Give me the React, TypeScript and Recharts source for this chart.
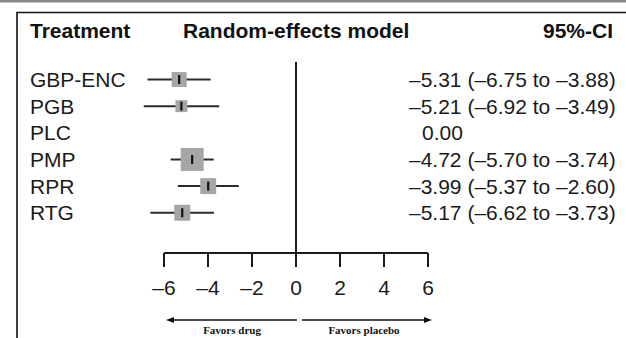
import { ScatterChart, Scatter, XAxis, YAxis, ZAxis, ErrorBar, ReferenceLine } from "recharts";

const treatments = ["GBP-ENC", "PGB", "PLC", "PMP", "RPR", "RTG"];
const estimates = [-5.31, -5.21, 0, -4.72, -3.99, -5.17];
const ciLow: (number | null)[] = [-6.75, -6.92, null, -5.7, -5.37, -6.62];
const ciHigh: (number | null)[] = [-3.88, -3.49, null, -3.74, -2.6, -3.73];
const weights = [22, 14, 0, 52, 25, 25];
const xTicks = [-6, -4, -2, 0, 2, 4, 6];

const dash = (v: number) => v.toFixed(2).replace("-", "\u2013");

const rows = treatments.map((name, i) => ({
  row: i,
  name,
  est: estimates[i],
  weight: weights[i],
  err: ciLow[i] == null ? null : [estimates[i] - (ciLow[i] as number), (ciHigh[i] as number) - estimates[i]],
  ci:
    ciLow[i] == null
      ? dash(estimates[i])
      : `${dash(estimates[i])} (${dash(ciLow[i] as number)} to ${dash(ciHigh[i] as number)})`,
}));
const plotted = rows.filter((r) => r.err != null);

// y-range of the row axis (reversed, so the bottom edge is the max)
const rowDomain: [number, number] = [-0.657, 6.51];

const font = '"Liberation Sans", Arial, sans-serif';

function RowTick({ y, payload }: { y?: number; payload?: { value: number } }) {
  const r = rows[payload?.value ?? 0];
  if (!r) return null;
  return (
    <g>
      <text x={30} y={y} dy="0.36em" fontSize={21} fill="#1a1a1a" fontFamily={font}>
        {r.name}
      </text>
      <text x={r.err ? 409 : 422} y={y} dy="0.36em" fontSize={21} fill="#1a1a1a" fontFamily={font}>
        {r.ci}
      </text>
    </g>
  );
}

function Square(p: any) {
  const s = p.width ?? 2 * Math.sqrt((p.size ?? 0) / Math.PI);
  return <rect x={p.cx - s / 2} y={p.cy - s / 2} width={s} height={s} fill="#a6a6a6" />;
}

function Mark(p: any) {
  return <rect x={p.cx - 1.1} y={p.cy - 4.5} width={2.2} height={9} fill="#111" />;
}

export default function App() {
  return (
    <div style={{ position: "absolute", left: 0, top: 0, width: 626, height: 338, background: "#fff", fontFamily: font }}>
      <ScatterChart width={626} height={338} margin={{ top: 62, right: 198, bottom: 25, left: 0 }}>
        <XAxis
          type="number"
          dataKey="est"
          domain={[-7, 6]}
          ticks={xTicks}
          interval={0}
          height={60}
          tickSize={14}
          tickMargin={13}
          axisLine={false}
          tickLine={{ stroke: "#1a1a1a", strokeWidth: 2 }}
          tick={{ fill: "#1a1a1a", fontSize: 21, fontFamily: font }}
          tickFormatter={(v: number) => String(v).replace("-", "\u2013")}
        />
        <YAxis
          yAxisId="left"
          type="number"
          dataKey="row"
          reversed
          domain={rowDomain}
          ticks={[0, 1, 2, 3, 4, 5]}
          interval={0}
          width={142}
          axisLine={false}
          tickLine={false}
          tick={<RowTick />}
        />
        <ZAxis type="number" dataKey="weight" domain={[0, 52]} range={[0, 415]} />
        <ReferenceLine yAxisId="left" x={0} stroke="#1a1a1a" strokeWidth={2} />
        <ReferenceLine
          yAxisId="left"
          ifOverflow="visible"
          segment={[
            { x: xTicks[0], y: rowDomain[1] },
            { x: xTicks[xTicks.length - 1], y: rowDomain[1] },
          ]}
          stroke="#1a1a1a"
          strokeWidth={2}
        />
        <Scatter yAxisId="left" data={plotted} shape={<Square />} isAnimationActive={false} />
        <Scatter yAxisId="left" data={plotted} shape={<Mark />} isAnimationActive={false}>
          <ErrorBar dataKey="err" direction="x" width={0} stroke="#2b2b2b" strokeWidth={2} isAnimationActive={false} />
        </Scatter>
      </ScatterChart>
      <svg width={626} height={338} style={{ position: "absolute", left: 0, top: 0, pointerEvents: "none" }}>
        <rect x={0} y={0} width={626} height={2.5} fill="#8a8a8a" />
        <path d="M17,338 V12.5 H626" fill="none" stroke="#111" strokeWidth={1.6} />
        <g fontFamily={font} fontWeight="bold" fontSize={21} fill="#111">
          <text x={30} y={38}>Treatment</text>
          <text x={183} y={38}>Random-effects model</text>
          <text x={613} y={38} textAnchor="end">95%-CI</text>
        </g>
        <g stroke="#111" strokeWidth={1.4}>
          <line x1={172} y1={320} x2={297} y2={320} />
          <line x1={302} y1={320} x2={426} y2={320} />
        </g>
        <polygon points="166,320 174,317 174,323" fill="#111" />
        <polygon points="432,320 424,317 424,323" fill="#111" />
        <g fontFamily='"Liberation Serif", "Times New Roman", serif' fontWeight="bold" fontSize={11} fill="#111" textAnchor="middle">
          <text x={232} y={334}>Favors drug</text>
          <text x={364} y={334}>Favors placebo</text>
        </g>
      </svg>
    </div>
  );
}
